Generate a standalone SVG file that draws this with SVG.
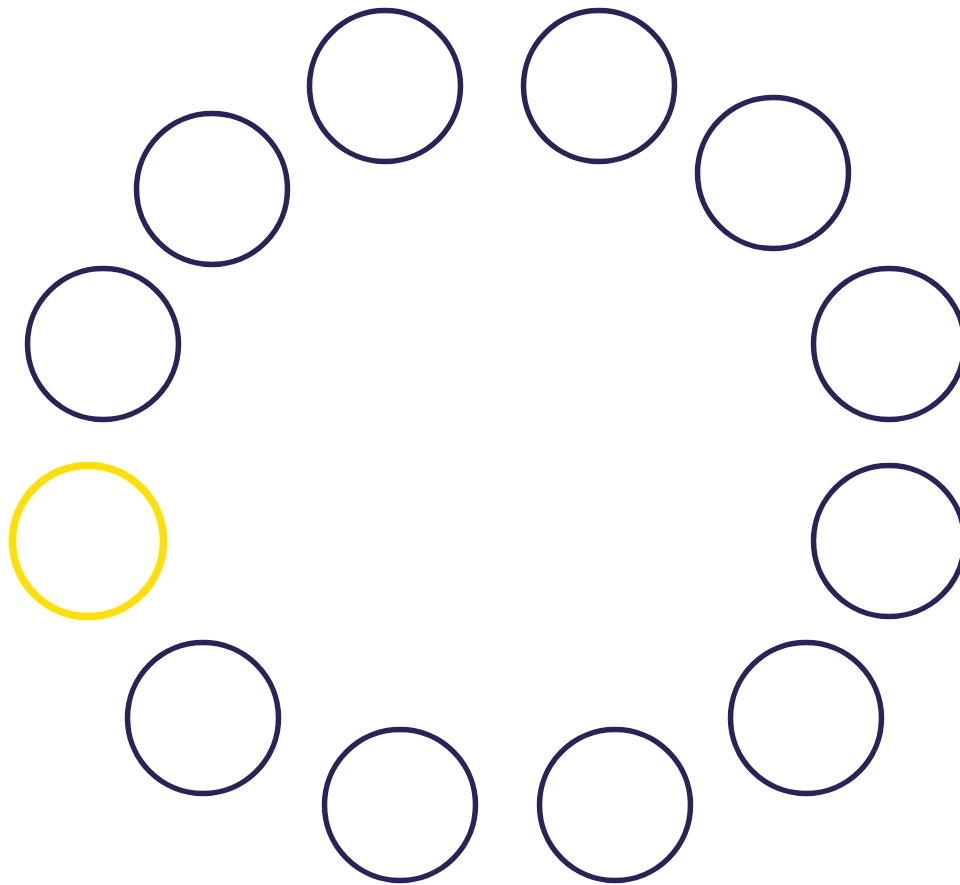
<svg xmlns="http://www.w3.org/2000/svg" width="960" height="885" viewBox="0 0 960 885">
<style>
.n{fill:none;stroke:#29235C;stroke-width:5.5}
.y{fill:none;stroke:#FFE000;stroke-width:7.5}
</style>
<rect width="960" height="885" fill="#fff"/>
<g id="c1"><circle class="n" cx="385" cy="86" r="75.5"/></g>
<g id="c2"><circle class="n" cx="599" cy="86" r="75.5"/></g>
<g id="c3"><circle class="n" cx="212" cy="189" r="75.5"/></g>
<g id="c4"><circle class="n" cx="773" cy="173" r="75.5"/></g>
<g id="c5"><circle class="n" cx="103" cy="344" r="75.5"/></g>
<g id="c6"><circle class="n" cx="889" cy="344" r="75.5"/></g>
<g id="c7"><circle class="y" cx="88" cy="541" r="75.5"/></g>
<g id="c8"><circle class="n" cx="889" cy="541" r="75.5"/></g>
<g id="c9"><circle class="n" cx="203" cy="718" r="75.5"/></g>
<g id="c10"><circle class="n" cx="806" cy="718" r="75.5"/></g>
<g id="c11"><circle class="n" cx="400" cy="805" r="75.5"/></g>
<g id="c12"><circle class="n" cx="615" cy="805" r="75.5"/></g>
<g id="connectors"/>
</svg>
